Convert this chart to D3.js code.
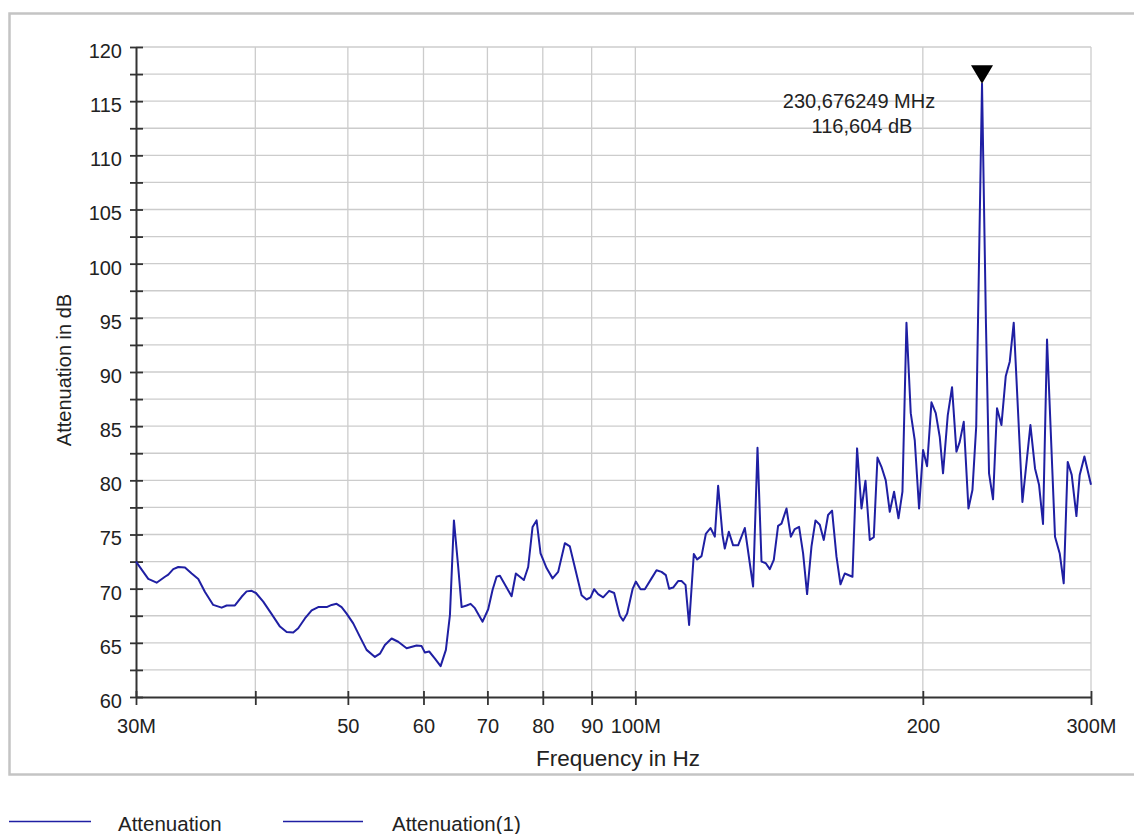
<!DOCTYPE html>
<html>
<head>
<meta charset="utf-8">
<script src="https://cdn.jsdelivr.net/npm/d3@7"></script>
<style>
  html, body { margin: 0; padding: 0; background: #fff; }
  svg { display: block; }
  text { font-family: "Liberation Sans", Arial, sans-serif; fill: #222; }
</style>
</head>
<body>
<svg id="chart" width="1134" height="834"></svg>
<script>
// Sweep frequencies (MHz)
const freqMHz = [
  30.00, 30.90, 31.53, 32.17, 32.43, 32.82, 33.22, 33.76, 34.31, 34.86,
  35.43, 36.14, 36.88, 37.33, 38.08, 38.70, 39.17, 39.65, 40.06, 40.77,
  41.61, 42.45, 43.14, 43.83, 44.36, 45.08, 45.82, 46.55, 47.51, 48.08,
  48.66, 49.25, 49.85, 50.65, 51.48, 52.31, 53.37, 54.02, 54.67, 55.56,
  56.45, 57.61, 59.01, 59.73, 60.21, 60.83, 61.68, 62.53, 63.33, 63.95,
  64.57, 65.24, 65.78, 66.57, 67.22, 67.92, 69.19, 70.13, 70.88, 71.56,
  72.14, 74.20, 74.97, 76.43, 77.23, 78.05, 78.81, 79.57, 80.73, 81.91,
  83.02, 84.37, 85.39, 87.84, 88.90, 89.76, 90.54, 91.42, 92.53, 93.88,
  95.02, 96.33, 97.10, 98.04, 99.33, 100.12, 101.26, 102.31, 103.98, 105.24,
  106.52, 107.63, 108.49, 109.54, 110.86, 111.78, 112.86, 113.84, 115.14, 116.06,
  117.30, 118.52, 119.87, 121.12, 122.09, 123.39, 124.07, 125.28, 126.58, 128.12,
  130.20, 132.83, 134.25, 135.55, 136.96, 138.29, 139.63, 141.08, 142.24, 143.97,
  145.47, 146.88, 148.41, 149.85, 151.30, 152.91, 154.39, 156.00, 157.51, 159.15,
  160.69, 162.41, 163.98, 165.69, 168.79, 170.68, 172.50, 174.17, 175.98, 177.69,
  179.28, 181.01, 182.90, 184.67, 186.60, 188.59, 190.41, 192.26, 194.26, 196.14,
  198.19, 200.11, 202.05, 204.20, 206.33, 208.33, 209.99, 212.38, 214.59, 216.88,
  218.61, 220.73, 223.25, 225.41, 227.48, 230.676249, 232.87, 234.61, 236.89, 239.18,
  241.73, 244.25, 246.62, 249.01, 254.28, 259.23, 262.12, 264.66, 267.23, 269.82,
  275.07, 278.20, 280.90, 283.62, 286.37, 289.63, 291.94, 295.27, 300.00
];

// Measured attenuation (dB)
const attenuationDb = [
  72.5, 70.9, 70.55, 71.1, 71.3, 71.8, 72.0, 71.95, 71.4, 70.9,
  69.7, 68.5, 68.25, 68.45, 68.45, 69.25, 69.75, 69.8, 69.6, 68.8,
  67.65, 66.5, 66.0, 65.95, 66.35, 67.25, 68.0, 68.3, 68.3, 68.5,
  68.6, 68.3, 67.7, 66.8, 65.55, 64.35, 63.7, 64.0, 64.8, 65.4,
  65.1, 64.5, 64.75, 64.7, 64.1, 64.2, 63.55, 62.85, 64.35, 67.55,
  76.3, 72.0, 68.3, 68.45, 68.6, 68.2, 66.95, 68.1, 69.9, 71.1,
  71.2, 69.3, 71.4, 70.8, 72.0, 75.7, 76.3, 73.25, 71.9, 70.95,
  71.55, 74.2, 73.9, 69.4, 69.0, 69.2, 69.95, 69.5, 69.2, 69.8,
  69.6, 67.5, 67.05, 67.7, 69.95, 70.65, 69.95, 69.95, 70.95, 71.7,
  71.55, 71.25, 70.0, 70.1, 70.7, 70.7, 70.35, 66.65, 73.2, 72.7,
  73.0, 75.05, 75.6, 74.8, 79.5, 74.95, 73.7, 75.25, 74.0, 74.0,
  75.6, 70.2, 83.0, 72.5, 72.35, 71.8, 72.65, 75.8, 76.0, 77.4,
  74.8, 75.5, 75.7, 73.25, 69.5, 73.9, 76.3, 75.9, 74.5, 76.8,
  77.2, 72.95, 70.4, 71.4, 71.1, 82.95, 77.4, 79.97, 74.5, 74.75,
  82.1, 81.25, 80.0, 77.1, 78.95, 76.5, 78.95, 94.55, 86.2, 83.7,
  77.4, 82.8, 81.3, 87.2, 86.2, 84.0, 80.65, 86.0, 88.6, 82.65,
  83.55, 85.4, 77.4, 79.1, 85.0, 116.604, 94.5, 80.65, 78.25, 86.65,
  85.1, 89.6, 90.95, 94.55, 78.0, 85.1, 81.1, 79.6, 75.97, 93.0,
  74.8, 73.25, 70.5, 81.7, 80.5, 76.7, 80.5, 82.2, 79.6
];

// Axis ticks
const xTickValues = [30, 40, 50, 60, 70, 80, 90, 100, 200, 300];
const xTickLabels = ["30M", "", "50", "60", "70", "80", "90", "100M", "200", "300M"];
const yTickLabels = [60, 65, 70, 75, 80, 85, 90, 95, 100, 105, 110, 115, 120];
const yTickValues = d3.range(60, 120.001, 2.5);

const seriesNames = ["Attenuation", "Attenuation(1)"];

const lineColor = "#1f1fa3";
const gridColor = "#cccccc";
const axisColor = "#333333";

const svg = d3.select("#chart");

// Outer frame
svg.append("rect")
  .attr("x", 9.5).attr("y", 13.5)
  .attr("width", 1140).attr("height", 761)
  .attr("fill", "none")
  .attr("stroke", "#c4c4c4")
  .attr("stroke-width", 2.5);

const plot = { left: 136, right: 1091, top: 47, bottom: 697 };

const x = d3.scaleLog().domain([30, 300]).range([plot.left, plot.right]);
const y = d3.scaleLinear().domain([60, 120]).range([plot.bottom, plot.top]);

// Grid
const grid = svg.append("g");
grid.selectAll("line.h").data(yTickValues.filter(v => v > 60)).join("line")
  .attr("x1", plot.left).attr("x2", plot.right)
  .attr("y1", d => y(d)).attr("y2", d => y(d))
  .attr("stroke", gridColor).attr("stroke-width", 1.3);
grid.selectAll("line.v").data(xTickValues.filter(v => v > 30)).join("line")
  .attr("x1", d => x(d)).attr("x2", d => x(d))
  .attr("y1", plot.top).attr("y2", plot.bottom)
  .attr("stroke", gridColor).attr("stroke-width", 1.3);

// Y axis
const yAxis = svg.append("g")
  .attr("transform", `translate(${plot.left},0)`)
  .call(d3.axisLeft(y)
    .tickValues(yTickValues)
    .tickSize(6)
    .tickSizeOuter(0)
    .tickPadding(8)
    .tickFormat(d => yTickLabels.includes(d) ? String(d) : ""));
yAxis.select(".domain").attr("stroke", axisColor).attr("stroke-width", 2);
yAxis.selectAll(".tick line").attr("x1", 7).attr("stroke", axisColor).attr("stroke-width", 1.8);
yAxis.selectAll(".tick text")
  .attr("dy", "0.52em")
  .style("font-size", "20px")
  .style("font-family", '"Liberation Sans", Arial, sans-serif')
  .attr("fill", "#222");

// X axis
const xAxis = svg.append("g")
  .attr("transform", `translate(0,${plot.bottom})`)
  .call(d3.axisBottom(x)
    .tickValues(xTickValues)
    .tickSize(8)
    .tickSizeOuter(0)
    .tickPadding(14)
    .tickFormat((d, i) => xTickLabels[i]));
xAxis.select(".domain").attr("stroke", axisColor).attr("stroke-width", 2);
xAxis.selectAll(".tick line").attr("y1", -6).attr("stroke", axisColor).attr("stroke-width", 1.8);
xAxis.selectAll(".tick text")
  .style("font-size", "20px")
  .style("font-family", '"Liberation Sans", Arial, sans-serif')
  .attr("fill", "#222");

// Axis titles
svg.append("text")
  .attr("transform", "translate(71,370) rotate(-90)")
  .attr("text-anchor", "middle")
  .style("font-size", "20px")
  .text("Attenuation in dB");

svg.append("text")
  .attr("x", 618).attr("y", 766)
  .attr("text-anchor", "middle")
  .style("font-size", "22.5px")
  .text("Frequency in Hz");

// Measurement trace
const points = freqMHz.map((f, i) => ({ f, v: attenuationDb[i] }));
const line = d3.line().x(d => x(d.f)).y(d => y(d.v));
svg.append("path")
  .datum(points)
  .attr("d", line)
  .attr("fill", "none")
  .attr("stroke", lineColor)
  .attr("stroke-width", 2)
  .attr("stroke-linejoin", "round");

// Peak marker
const peak = d3.greatest(points, d => d.v);
const px = x(peak.f), py = y(peak.v);
svg.append("path")
  .attr("d", `M${px - 11},${py - 18.5}L${px + 11},${py - 18.5}L${px},${py}Z`)
  .attr("fill", "#000");
const labelX = px - 123;
svg.append("text")
  .attr("x", labelX).attr("y", 108)
  .attr("text-anchor", "middle")
  .style("font-size", "20px")
  .text(peak.f.toFixed(6).replace(".", ",") + " MHz");
svg.append("text")
  .attr("x", labelX + 3).attr("y", 132.5)
  .attr("text-anchor", "middle")
  .style("font-size", "20px")
  .text(peak.v.toFixed(3).replace(".", ",") + " dB");

// Legend
const legendItems = [
  { name: seriesNames[0], x1: 9, x2: 91, tx: 118 },
  { name: seriesNames[1], x1: 283, x2: 363, tx: 392 }
];
const legend = svg.append("g");
legend.selectAll("line").data(legendItems).join("line")
  .attr("x1", d => d.x1).attr("x2", d => d.x2)
  .attr("y1", 821.5).attr("y2", 821.5)
  .attr("stroke", lineColor).attr("stroke-width", 1.5);
legend.selectAll("text").data(legendItems).join("text")
  .attr("x", d => d.tx).attr("y", 831)
  .style("font-size", "20.5px")
  .text(d => d.name);
</script>
</body>
</html>
